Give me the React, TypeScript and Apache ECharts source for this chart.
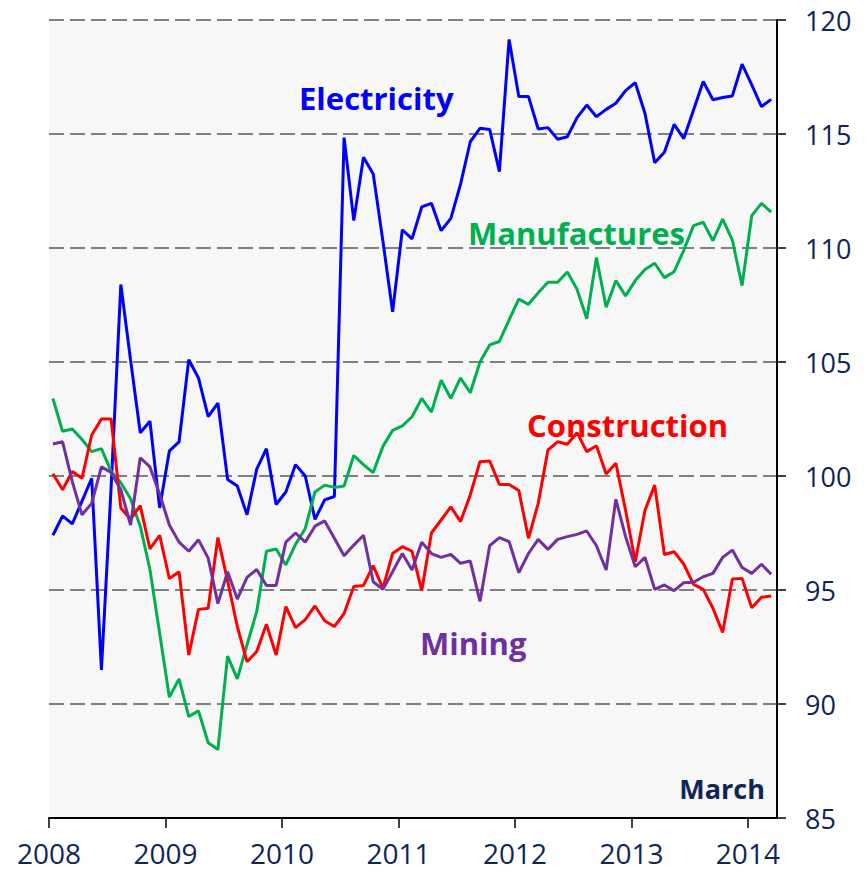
import React, { useEffect, useRef } from "react";
import * as echarts from "echarts";

const START_YEAR = 2008;
const MONTH_OFFSET = 0.4;

const yearTicks = [2008, 2009, 2010, 2011, 2012, 2013, 2014];

const electricity = [
  97.4, 98.25, 97.9, 98.9, 99.9, 91.5, 99.5, 108.4, 105.1, 101.9, 102.4, 98.6,
  101.1, 101.5, 105.1, 104.3, 102.6, 103.2, 99.85, 99.56, 98.3, 100.3, 101.2, 98.75,
  99.3, 100.5, 100.0, 98.1, 98.95, 99.1, 114.84, 111.2, 113.98, 113.25, 110.3, 107.2,
  110.8, 110.4, 111.8, 111.96, 110.76, 111.3, 112.8, 114.66, 115.25, 115.2, 113.35, 119.15,
  116.64, 116.64, 115.22, 115.28, 114.77, 114.88, 115.72, 116.27, 115.76, 116.08, 116.35, 116.9,
  117.25, 115.9, 113.74, 114.2, 115.42, 114.8, 116.05, 117.3, 116.5, 116.6, 116.67, 118.06,
  117.15, 116.2, 116.52,
];

const manufactures = [
  103.4, 101.96, 102.06, 101.6, 101.07, 101.2, 100.2, 99.7, 99.0, 97.8, 95.9, 93.1,
  90.3, 91.1, 89.45, 89.7, 88.3, 88.0, 92.1, 91.1, 92.6, 94.05, 96.7, 96.8,
  96.1, 97.0, 97.7, 99.3, 99.6, 99.5, 99.56, 100.9, 100.5, 100.15, 101.3, 102.0,
  102.2, 102.6, 103.4, 102.8, 104.2, 103.4, 104.3, 103.65, 105.0, 105.75, 105.9, 106.85,
  107.76, 107.53, 108.04, 108.5, 108.5, 108.95, 108.19, 106.9, 109.58, 107.4, 108.57, 107.9,
  108.57, 109.06, 109.33, 108.7, 108.96, 109.9, 110.98, 111.13, 110.32, 111.27, 110.35, 108.35,
  111.42, 111.96, 111.57,
];

const construction = [
  100.1, 99.4, 100.2, 99.9, 101.8, 102.5, 102.5, 98.6, 98.1, 98.7, 96.8, 97.4,
  95.5, 95.8, 92.15, 94.15, 94.2, 97.3, 95.4, 93.4, 91.85, 92.3, 93.5, 92.15,
  94.27, 93.35, 93.7, 94.3, 93.65, 93.4, 93.97, 95.15, 95.2, 96.07, 95.07, 96.6,
  96.9, 96.7, 94.97, 97.5, 98.07, 98.65, 98.0, 99.17, 100.63, 100.66, 99.63, 99.63,
  99.36, 97.27, 98.8, 101.14, 101.5, 101.39, 101.9, 101.07, 101.33, 100.09, 100.56, 98.5,
  96.24, 98.5, 99.6, 96.56, 96.68, 96.13, 95.25, 95.03, 94.2, 93.14, 95.48, 95.51,
  94.22, 94.68, 94.74,
];

const mining = [
  101.4, 101.5, 99.75, 98.3, 98.8, 100.4, 100.15, 99.4, 97.85, 100.8, 100.4, 99.2,
  97.85, 97.1, 96.7, 97.2, 96.4, 94.4, 95.8, 94.6, 95.55, 95.9, 95.2, 95.2,
  97.1, 97.5, 97.1, 97.8, 98.03, 97.27, 96.5, 96.97, 97.4, 95.36, 95.03, 95.8,
  96.6, 95.88, 97.1, 96.6, 96.43, 96.56, 96.17, 96.27, 94.5, 96.94, 97.3, 97.12,
  95.76, 96.6, 97.22, 96.78, 97.22, 97.34, 97.44, 97.59, 96.94, 95.88, 98.98, 97.34,
  96.02, 96.43, 95.03, 95.22, 94.97, 95.32, 95.34, 95.58, 95.73, 96.43, 96.75, 95.99,
  95.73, 96.13, 95.69,
];

const seriesNames = ["Electricity", "Manufactures", "Construction", "Mining"];
const seriesColors = ["#0000FF", "#00B050", "#FF0000", "#7030A0"];
const yTicks = [85, 90, 95, 100, 105, 110, 115, 120];

const NAVY = "#0F2557";
const FONT = "'Open Sans', Lato, sans-serif";

function toPairs(values: number[]) {
  return values.map((v, i) => [START_YEAR + (i + MONTH_OFFSET) / 12, v]);
}

export default function App() {
  const ref = useRef<HTMLDivElement>(null);

  useEffect(() => {
    if (!ref.current) return;
    const chart = echarts.init(ref.current, undefined, { renderer: "svg" });
    const allData = [electricity, manufactures, construction, mining];

    const labelText = (
      text: string,
      x: number,
      y: number,
      fill: string,
      size: number,
      align: string = "left"
    ) => ({
      type: "text",
      x,
      y,
      z: 100,
      style: {
        text,
        fill,
        font: `bold ${size}px ${FONT}`,
        textAlign: align,
        textVerticalAlign: "middle",
        align,
        verticalAlign: "middle",
      },
    });

    chart.setOption({
      animation: false,
      backgroundColor: "#ffffff",
      grid: {
        left: 49,
        right: 90,
        top: 20,
        bottom: 56,
        show: true,
        backgroundColor: "#F7F7F7",
        borderWidth: 0,
      },
      xAxis: {
        type: "value",
        min: yearTicks[0],
        max: 2014.25,
        interval: 1,
        position: "bottom",
        axisLine: { show: true, onZero: false, lineStyle: { color: "#000", width: 2 } },
        axisTick: { show: true, length: 10, lineStyle: { color: "#000", width: 1.5 } },
        axisLabel: {
          color: NAVY,
          fontSize: 28,
          fontFamily: FONT,
          margin: 21,
          showMaxLabel: false,
          formatter: (v: number) => (yearTicks.includes(v) ? String(v) : ""),
        },
        splitLine: { show: false },
      },
      yAxis: {
        type: "value",
        position: "right",
        min: yTicks[0],
        max: yTicks[yTicks.length - 1],
        interval: 5,
        axisLine: { show: true, lineStyle: { color: "#000", width: 2 } },
        axisTick: { show: true, length: 9, lineStyle: { color: "#000", width: 1.5 } },
        axisLabel: {
          color: NAVY,
          fontSize: 27,
          fontFamily: FONT,
          margin: 28,
        },
        splitLine: {
          show: true,
          lineStyle: { color: "#808080", width: 2, type: [15, 6] },
        },
      },
      series: allData.map((d, i) => ({
        name: seriesNames[i],
        type: "line",
        data: toPairs(d),
        showSymbol: false,
        symbol: "none",
        lineStyle: { color: seriesColors[i], width: 3 },
        itemStyle: { color: seriesColors[i] },
        z: 2 + i,
      })),
      graphic: [
        labelText("Electricity", 299, 98, seriesColors[0], 31),
        labelText("Manufactures", 468, 233, seriesColors[1], 31),
        labelText("Construction", 527, 425, seriesColors[2], 31),
        labelText("Mining", 420, 643, seriesColors[3], 31),
        labelText("March", 765, 788, NAVY, 27, "right"),
      ],
    });

    return () => {
      chart.dispose();
    };
  }, []);

  return (
    <div
      ref={ref}
      style={{ position: "fixed", left: 0, top: 0, width: 867, height: 874 }}
    />
  );
}
